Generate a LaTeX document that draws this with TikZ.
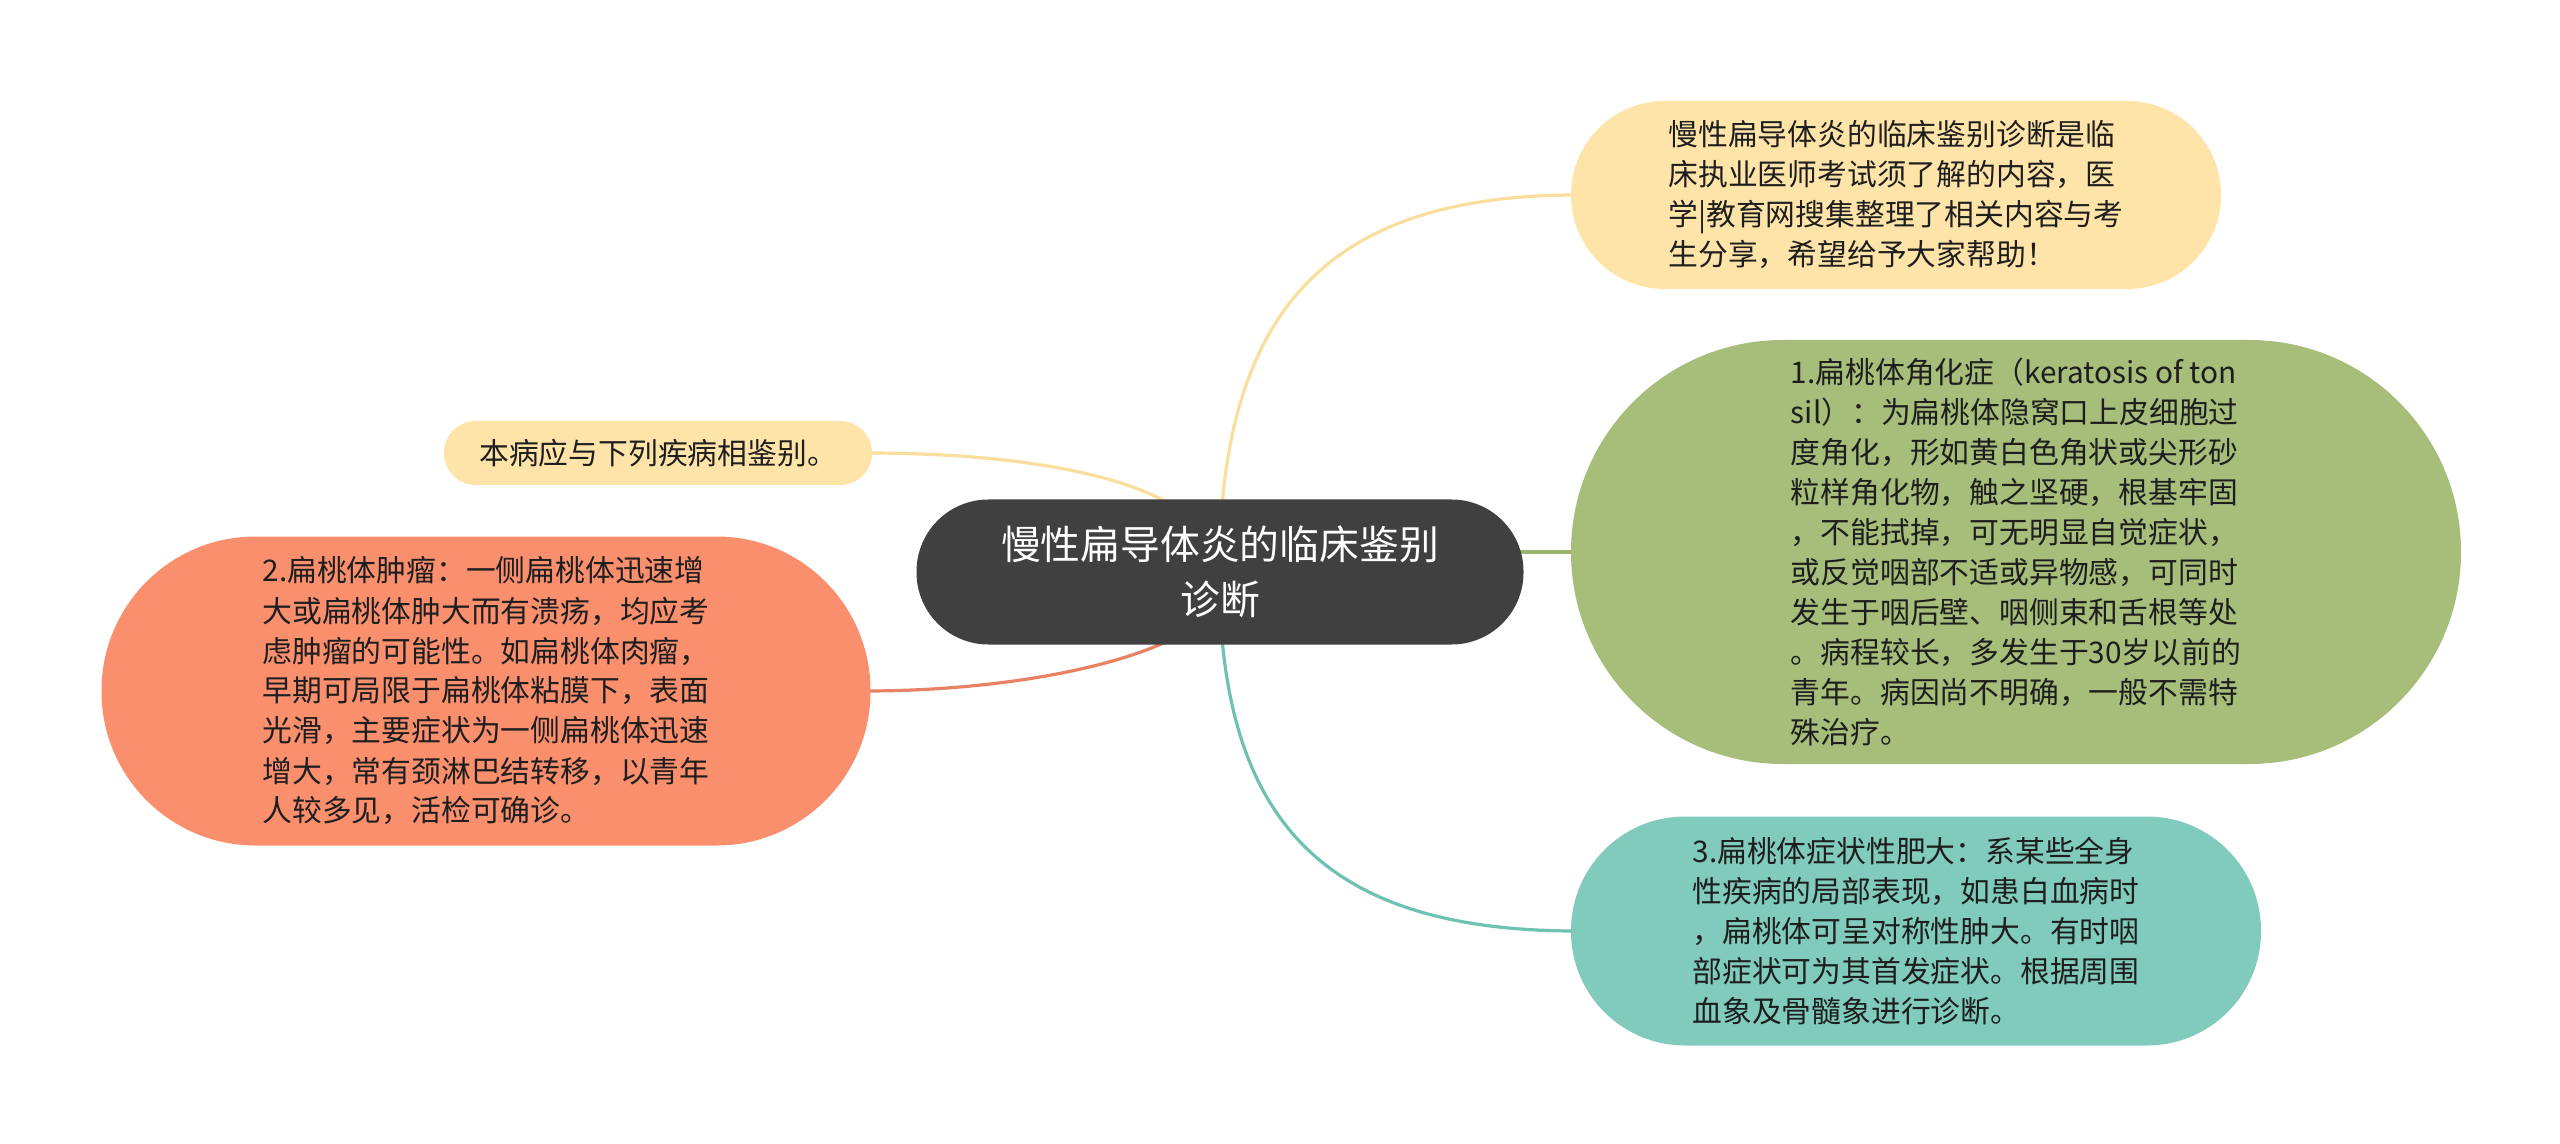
\documentclass[tikz,border=0pt]{standalone}
\usepackage{fontspec}
\setmainfont{Noto Sans CJK SC}
\usetikzlibrary{calc,backgrounds}
\definecolor{ctrfill}{RGB}{64,64,64}
\definecolor{yelfill}{RGB}{254,228,168}
\definecolor{yelline}{RGB}{250,222,158}
\definecolor{grnfill}{RGB}{166,190,122}
\definecolor{grnline}{RGB}{156,180,110}
\definecolor{tealfill}{RGB}{128,203,188}
\definecolor{tealline}{RGB}{110,194,178}
\definecolor{orgfill}{RGB}{250,143,110}
\definecolor{orgline}{RGB}{232,130,100}
\definecolor{txt}{RGB}{30,30,30}
\tikzset{
  leaf/.style={inner sep=0pt, align=left, text=txt, font=\fontsize{14.9pt}{20pt}\selectfont},
  rootbox/.style={inner sep=0pt, align=center, text=white, fill=ctrfill, font=\fontsize{19.9pt}{27.5pt}\selectfont},
  conn/.style={line width=1.6pt},
}
\begin{document}
\begin{tikzpicture}[x=0.5pt,y=-0.5pt]
\useasboundingbox (0,0) rectangle (2560,1144);

\node[rootbox, rounded corners=36pt, minimum width=303.5pt, minimum height=72.5pt] (ctr) at (1220,572) {慢性扁导体炎的临床鉴别\\诊断};

\node[leaf, fill=yelfill, rounded corners=46.9pt, minimum width=325pt, minimum height=94pt] (top) at (1896,195) {慢性扁导体炎的临床鉴别诊断是临\\床执业医师考试须了解的内容，医\\学|教育网搜集整理了相关内容与考\\生分享，希望给予大家帮助！};

\node[leaf, fill=grnfill, rounded corners=105.9pt, minimum width=445pt, minimum height=212pt] (grn) at (2016,552) {1.扁桃体角化症（keratosis of ton\\sil）：为扁桃体隐窝口上皮细胞过\\度角化，形如黄白色角状或尖形砂\\粒样角化物，触之坚硬，根基牢固\\，不能拭掉，可无明显自觉症状，\\或反觉咽部不适或异物感，可同时\\发生于咽后壁、咽侧束和舌根等处\\。病程较长，多发生于30岁以前的\\青年。病因尚不明确，一般不需特\\殊治疗。};

\node[leaf, fill=tealfill, rounded corners=57pt, minimum width=345pt, minimum height=114.5pt] (teal) at (1916,931) {3.扁桃体症状性肥大：系某些全身\\性疾病的局部表现，如患白血病时\\，扁桃体可呈对称性肿大。有时咽\\部症状可为其首发症状。根据周围\\血象及骨髓象进行诊断。};

\node[leaf, fill=yelfill, rounded corners=15.9pt, minimum width=214pt, minimum height=32pt] (sy) at (658,453) {本病应与下列疾病相鉴别。};

\node[leaf, fill=orgfill, rounded corners=77pt, minimum width=384.5pt, minimum height=154.5pt] (org) at (486,691) {2.扁桃体肿瘤：一侧扁桃体迅速增\\大或扁桃体肿大而有溃疡，均应考\\虑肿瘤的可能性。如扁桃体肉瘤，\\早期可局限于扁桃体粘膜下，表面\\光滑，主要症状为一侧扁桃体迅速\\增大，常有颈淋巴结转移，以青年\\人较多见，活检可确诊。};

\begin{scope}[on background layer]
\fill[white] (0,0) rectangle (2560,1144);
\draw[conn, yelline] ($(ctr.north)+(2,6)$) .. controls ($(ctr.north)+(20,-200)$) and ($(top.west)+(-230,0)$) .. ($(top.west)+(6,0)$);
\draw[conn, grnline] ($(grn.west -| ctr.east)+(-8,0)$) -- ($(grn.west)+(6,0)$);
\draw[conn, tealline] ($(ctr.south)+(2,-6)$) .. controls ($(ctr.south)+(20,190)$) and ($(teal.west)+(-230,0)$) .. ($(teal.west)+(6,0)$);
\draw[conn, yelline] ($(ctr.north)+(-48,6)$) .. controls ($(ctr.north)+(-110,-31)$) and ($(sy.east)+(118,0)$) .. ($(sy.east)+(-6,0)$);
\draw[conn, orgline] ($(ctr.south)+(-48,-6)$) .. controls ($(ctr.south)+(-110,25)$) and ($(org.east)+(120,0)$) .. ($(org.east)+(-6,0)$);
\end{scope}
\end{tikzpicture}
\end{document}
